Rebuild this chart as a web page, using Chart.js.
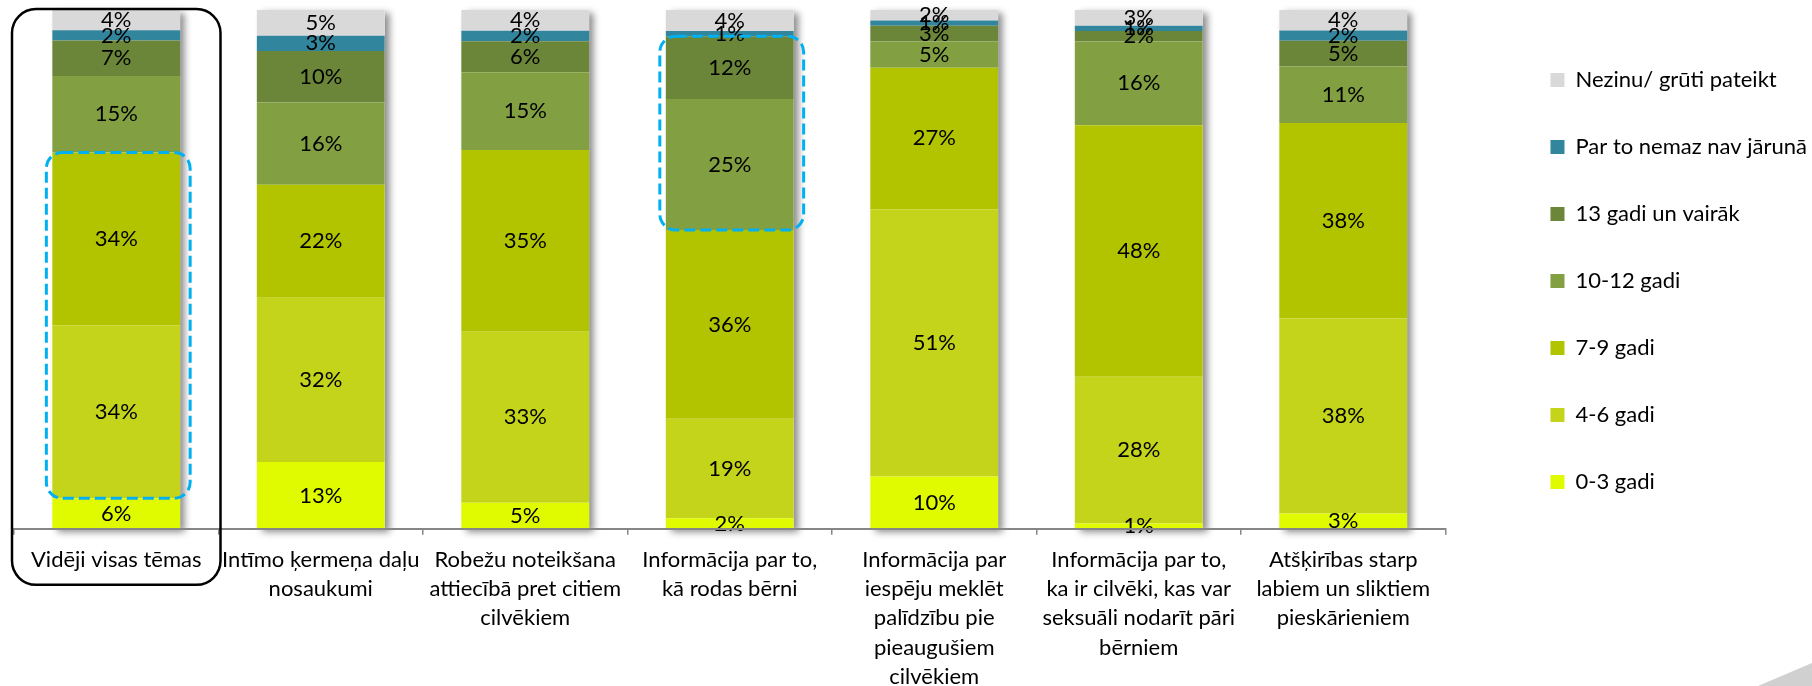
<!DOCTYPE html>
<html lang="lv">
<head>
<meta charset="utf-8">
<title>Tēmas un vecums</title>
<script src="https://cdn.jsdelivr.net/npm/chart.js@4.4.1/dist/chart.umd.min.js"></script>
<style>
  html, body { margin: 0; padding: 0; background: #fff; }
</style>
</head>
<body>
<canvas id="myChart" width="1812" height="686"></canvas>
<script>
"use strict";
// DATA
const categories = [
  "Vidēji visas tēmas",
  ["Intīmo ķermeņa daļu", "nosaukumi"],
  ["Robežu noteikšana", "attiecībā pret citiem", "cilvēkiem"],
  ["Informācija par to,", "kā rodas bērni"],
  ["Informācija par", "iespēju meklēt", "palīdzību pie", "pieaugušiem", "cilvēkiem"],
  ["Informācija par to,", "ka ir cilvēki, kas var", "seksuāli nodarīt pāri", "bērniem"],
  ["Atšķirības starp", "labiem un sliktiem", "pieskārieniem"]
];
// series from the bottom of each column to its top
const seriesNames = ["0-3 gadi", "4-6 gadi", "7-9 gadi", "10-12 gadi", "13 gadi un vairāk", "Par to nemaz nav jārunā", "Nezinu/ grūti pateikt"];
const seriesColors = ["#E0FB00", "#C4D41A", "#B2C400", "#82A042", "#6B8638", "#31859C", "#D9D9D9"];
const age0to3 = [6, 13, 5, 2, 10, 1, 3];
const age4to6 = [34, 32, 33, 19, 51, 28, 38];
const age7to9 = [34, 22, 35, 36, 27, 48, 38];
const age10to12 = [15, 16, 15, 25, 5, 16, 11];
const age13plus = [7, 10, 6, 12, 3, 2, 5];
const notToTalk = [2, 3, 2, 1, 1, 1, 2];
const dontKnow = [4, 5, 4, 4, 2, 3, 4];
// dashed boxes: column index and the range of series they wrap
const dashedGroups = [
  { column: 0, fromSeries: 1, toSeries: 2 },
  { column: 3, fromSeries: 3, toSeries: 4 }
];

const FONT = "Lato, 'Open Sans', sans-serif";
const seriesValues = [age0to3, age4to6, age7to9, age10to12, age13plus, notToTalk, dontKnow];

// the rounded labels add up to 99-102, so every column is scaled to a full 100% stack
const columnTotals = categories.map((c, i) => seriesValues.reduce((sum, s) => sum + s[i], 0));

const datasets = seriesNames.map((name, k) => ({
  label: name,
  data: seriesValues[k].map((v, i) => (v / columnTotals[i]) * 100),
  shown: seriesValues[k],
  backgroundColor: seriesColors[k],
  borderWidth: 0,
  barPercentage: 0.625,
  categoryPercentage: 1
}));

// HELPERS
const roundedRect = function (ctx, x, y, w, h, r) {
  ctx.beginPath();
  ctx.moveTo(x + r, y);
  ctx.arcTo(x + w, y, x + w, y + h, r);
  ctx.arcTo(x + w, y + h, x, y + h, r);
  ctx.arcTo(x, y + h, x, y, r);
  ctx.arcTo(x, y, x + w, y, r);
  ctx.closePath();
};

// PLUGINS
// empty box between the plot and the legend
const legendGap = {
  id: "legendGap",
  beforeInit(chart) {
    Chart.layouts.addBox(chart, {
      position: "right",
      weight: 500,
      fullSize: false,
      options: {},
      top: 0, left: 0, right: 0, bottom: 0, width: 0, height: 0,
      isHorizontal() { return false; },
      update(maxWidth, maxHeight) { this.width = 60; this.height = maxHeight; },
      draw() {}
    });
  }
};

const barShadow = {
  id: "barShadow",
  beforeDatasetsDraw(chart) {
    const ctx = chart.ctx;
    const bottomBars = chart.getDatasetMeta(0).data;
    const topBars = chart.getDatasetMeta(chart.data.datasets.length - 1).data;
    ctx.save();
    ctx.fillStyle = "#fff";
    ctx.shadowColor = "rgba(0,0,0,0.45)";
    ctx.shadowBlur = 7;
    ctx.shadowOffsetX = 5;
    ctx.shadowOffsetY = 3;
    bottomBars.forEach((bar, i) => {
      const top = topBars[i].y;
      ctx.fillRect(bar.x - bar.width / 2, top, bar.width, bar.base - top);
    });
    ctx.restore();
  }
};

const segmentLabels = {
  id: "segmentLabels",
  afterDatasetsDraw(chart) {
    const ctx = chart.ctx;
    ctx.save();
    ctx.font = "22px " + FONT;
    ctx.fillStyle = "#000";
    ctx.textAlign = "center";
    ctx.textBaseline = "middle";
    chart.data.datasets.forEach((ds, d) => {
      chart.getDatasetMeta(d).data.forEach((bar, i) => {
        ctx.fillText(ds.shown[i] + "%", bar.x, (bar.y + bar.base) / 2);
      });
    });
    ctx.restore();
  }
};

const frames = {
  id: "frames",
  afterDraw(chart) {
    const ctx = chart.ctx;
    const xs = chart.scales.x;
    const step = xs.width / categories.length;
    ctx.save();
    // black frame round the first column and its label
    const cx = xs.getPixelForValue(0);
    const top = chart.chartArea.top - 1;
    roundedRect(ctx, cx - step / 2 - 2, top, step + 4, xs.top + 56 - top, 24);
    ctx.strokeStyle = "#000";
    ctx.lineWidth = 2.5;
    ctx.stroke();
    // dashed blue boxes
    ctx.strokeStyle = "#00B0F0";
    ctx.lineWidth = 3;
    ctx.setLineDash([11, 5]);
    dashedGroups.forEach((g) => {
      const low = chart.getDatasetMeta(g.fromSeries).data[g.column];
      const high = chart.getDatasetMeta(g.toSeries).data[g.column];
      const left = low.x - low.width / 2 - 6;
      const right = low.x + low.width / 2 + 10;
      roundedRect(ctx, left, high.y, right - left, low.base - high.y, 16);
      ctx.stroke();
    });
    ctx.setLineDash([]);
    // slide corner decoration
    ctx.fillStyle = "#D0D0D0";
    ctx.beginPath();
    ctx.moveTo(chart.width - 54, chart.height);
    ctx.lineTo(chart.width, chart.height - 23);
    ctx.lineTo(chart.width, chart.height);
    ctx.closePath();
    ctx.fill();
    ctx.restore();
  }
};

// CHART
const config = {
  type: "bar",
  data: { labels: categories, datasets: datasets },
  options: {
    responsive: false,
    animation: false,
    events: [],
    layout: { padding: { top: 10, left: 14, right: -5, bottom: -16 } },
    scales: {
      x: {
        stacked: true,
        grid: { display: true, drawOnChartArea: false, drawTicks: true, tickLength: 6, color: "#868686", lineWidth: 1.5 },
        border: { display: true, color: "#868686", width: 2, z: 1 },
        ticks: {
          autoSkip: false,
          maxRotation: 0,
          minRotation: 0,
          padding: 11,
          color: "#000",
          font: { family: FONT, size: 22, lineHeight: 1.32 }
        }
      },
      y: { stacked: true, display: false, min: 0, max: 100 }
    },
    plugins: {
      tooltip: { enabled: false },
      legend: {
        position: "right",
        align: "start",
        reverse: true,
        title: { display: true, text: "", padding: 0, font: { size: 14, lineHeight: 1 } },
        labels: { boxWidth: 14, boxHeight: 14, padding: 45, color: "#000", font: { family: FONT, size: 22 } }
      }
    }
  },
  plugins: [legendGap, barShadow, segmentLabels, frames]
};

const myChart = new Chart(document.getElementById("myChart"), config);
</script>
</body>
</html>
